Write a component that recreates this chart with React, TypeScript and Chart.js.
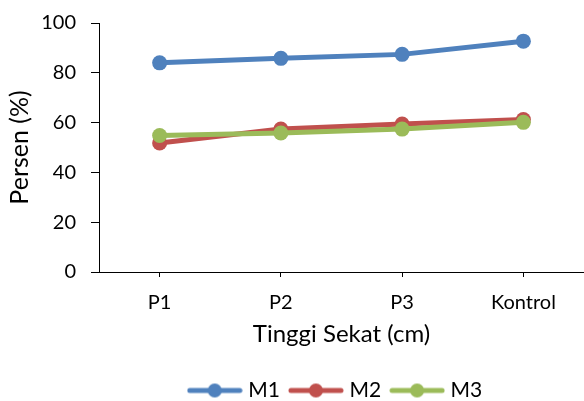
import React, { useEffect, useRef } from 'react';
import { Chart, registerables } from 'chart.js';

Chart.register(...registerables);

const categories = ['P1', 'P2', 'P3', 'Kontrol'];
const seriesNames = ['M1', 'M2', 'M3'];
const m1Values = [84.0, 85.8, 87.4, 92.7];
const m2Values = [51.8, 57.4, 59.4, 61.2];
const m3Values = [54.8, 55.8, 57.4, 60.1];
const seriesColors = ['#4F81BD', '#C0504D', '#9BBB59'];
const yMin = 0;
const yMax = 100;
const yStep = 20;
const xTitle = 'Tinggi Sekat (cm)';
const yTitle = 'Persen (%)';

const FONT = 'Lato, "Open Sans", sans-serif';
const TEXT = '#000000';
const AXIS = '#000000';

function makeSymbol(color: string): HTMLCanvasElement {
  const c = document.createElement('canvas');
  c.width = 56;
  c.height = 16;
  const ctx = c.getContext('2d')!;
  ctx.strokeStyle = color;
  ctx.lineWidth = 5;
  ctx.lineCap = 'round';
  ctx.beginPath();
  ctx.moveTo(3, 8);
  ctx.lineTo(53, 8);
  ctx.stroke();
  ctx.fillStyle = color;
  ctx.beginPath();
  ctx.arc(28, 8, 7, 0, Math.PI * 2);
  ctx.fill();
  return c;
}

export default function App() {
  const ref = useRef<HTMLCanvasElement | null>(null);

  useEffect(() => {
    document.body.style.margin = '0';
    const canvas = ref.current;
    if (!canvas) return;
    const allValues = [m1Values, m2Values, m3Values];
    const orders = [0, 2, 1];
    const symbols = seriesColors.map((c) => makeSymbol(c));

    const legendShift = {
      id: 'legendShift',
      afterLayout(chart: any) {
        const lg = chart.legend;
        if (!lg) return;
        lg.left = 90;
        lg.right = 584;
        lg.top += 10;
        lg.bottom += 10;
      },
    };

    const chart = new Chart(canvas, {
      type: 'line',
      data: {
        labels: categories,
        datasets: seriesNames.map((name, i) => ({
          label: name,
          data: allValues[i],
          borderColor: seriesColors[i],
          backgroundColor: seriesColors[i],
          borderWidth: 5,
          pointRadius: 7.5,
          pointHoverRadius: 7.5,
          pointBorderWidth: 0,
          pointBackgroundColor: seriesColors[i],
          tension: 0,
          fill: false,
          clip: false,
          order: orders[i],
        })),
      },
      options: {
        responsive: false,
        animation: false,
        layout: { autoPadding: false, padding: { top: 23, right: 0, left: 0, bottom: 0 } },
        scales: {
          x: {
            type: 'category',
            offset: true,
            grid: {
              display: true,
              offset: false,
              drawOnChartArea: false,
              drawTicks: true,
              tickLength: 5,
              color: AXIS,
              lineWidth: 1,
            },
            border: { display: true, color: AXIS, width: 1 },
            ticks: {
              color: TEXT,
              font: { family: FONT, size: 20 },
              padding: 14,
              maxRotation: 0,
              autoSkip: false,
            },
            title: {
              display: true,
              text: xTitle,
              color: TEXT,
              font: { family: FONT, size: 24 },
              padding: { top: 0, bottom: 8 },
            },
            afterFit(scale: any) {
              scale.height = 85;
              scale.paddingLeft = 0;
              scale.paddingRight = 0;
            },
          },
          y: {
            min: yMin,
            max: yMax,
            ticks: {
              stepSize: yStep,
              color: TEXT,
              font: { family: FONT, size: 20 },
              padding: 15,
            },
            grid: {
              display: true,
              drawOnChartArea: false,
              drawTicks: true,
              tickLength: 8,
              color: AXIS,
              lineWidth: 1,
            },
            border: { display: true, color: AXIS, width: 1 },
            title: {
              display: true,
              text: yTitle,
              color: TEXT,
              font: { family: FONT, size: 25 },
              padding: { top: 5, bottom: 0 },
            },
            afterFit(scale: any) {
              scale.width = 99;
              scale.paddingTop = 0;
              scale.paddingBottom = 0;
            },
          },
        },
        plugins: {
          legend: {
            display: true,
            position: 'bottom',
            labels: {
              usePointStyle: true,
              pointStyleWidth: 46,
              padding: 13,
              color: TEXT,
              font: { family: FONT, size: 21 },
              generateLabels: (ch: any) =>
                ch.data.datasets.map((ds: any, i: number) => ({
                  text: ds.label,
                  fillStyle: seriesColors[i],
                  strokeStyle: seriesColors[i],
                  lineWidth: 0,
                  pointStyle: symbols[i],
                  hidden: false,
                  datasetIndex: i,
                  fontColor: TEXT,
                })),
            },
          },
          tooltip: { enabled: false },
        },
      },
      plugins: [legendShift],
    });
    return () => chart.destroy();
  }, []);

  return (
    <div style={{ width: 584, height: 401, background: '#ffffff' }}>
      <canvas ref={ref} width={584} height={401} style={{ display: 'block' }} />
    </div>
  );
}
